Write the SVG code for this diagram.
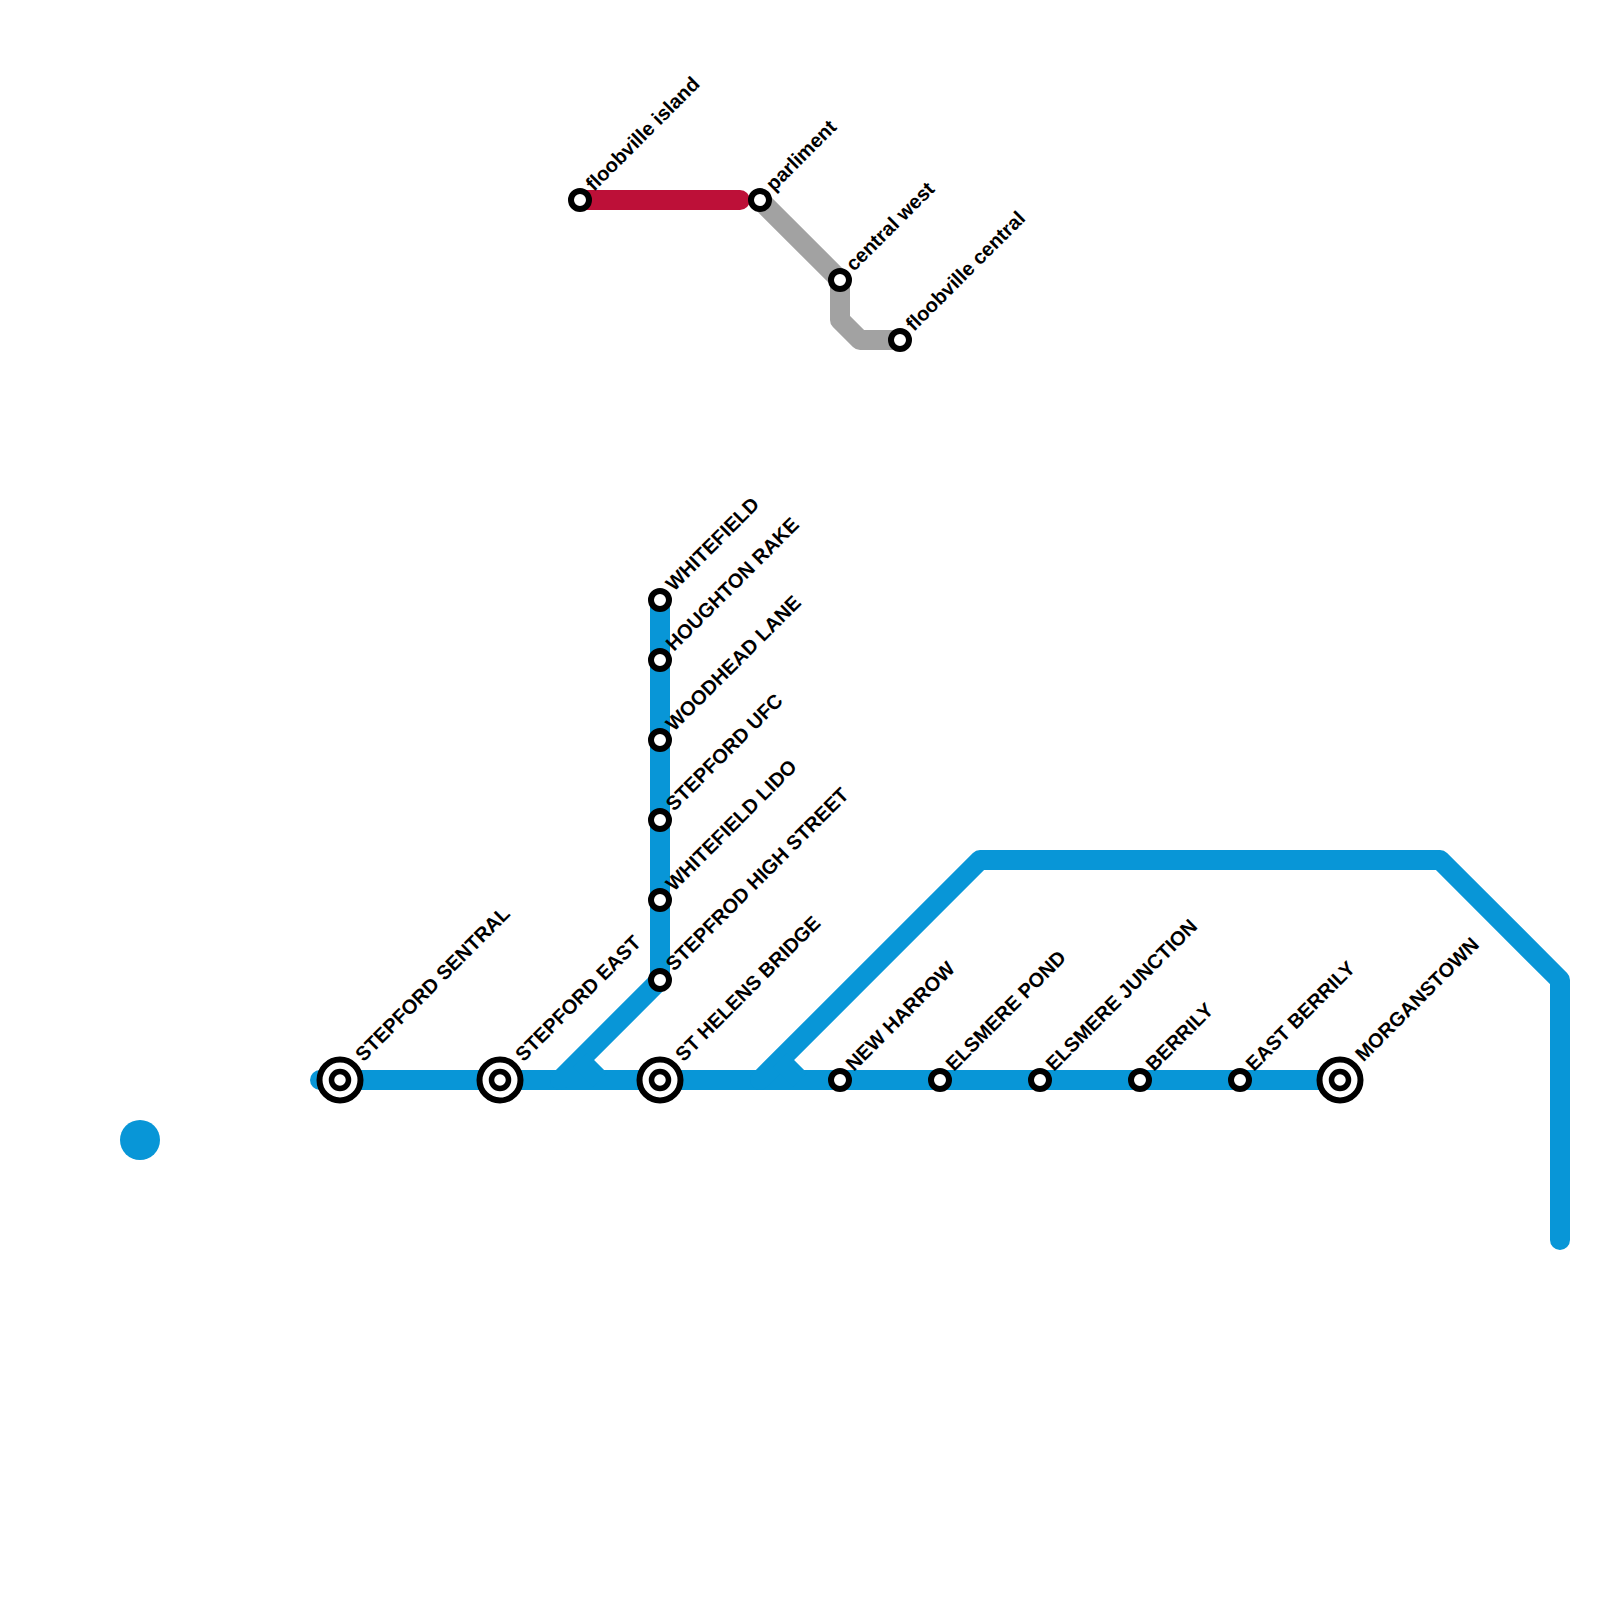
<svg xmlns="http://www.w3.org/2000/svg" width="1600" height="1600" viewBox="0 0 1600 1600">
<style>
.l{fill:none;stroke-width:20;stroke-linecap:round;stroke-linejoin:round}
.b{stroke:#0896d7}.r{stroke:#bd1038}.g{stroke:#a2a2a2}
.o{fill:#fff;stroke:#000;stroke-width:6}
.i{fill:#fff;stroke:#000;stroke-width:5.5}
.t{fill:#000;font-family:"Liberation Sans",Arial,sans-serif;font-weight:bold;font-size:20px}
</style>
<g id="connectors">
<path class="l r" d="M580 200H740"/>
<path class="l g" d="M760 200L840 280V320L860 340H900"/>
<path class="l b" d="M320 1080H1340"/>
<path class="l b" d="M660 600V980L560 1080"/>
<path class="l b" d="M760 1080L980 860H1440L1560 980V1240"/>
<path class="b" style="stroke-width:20;fill:none" d="M580 1060L600 1080M780 1060L800 1080"/>
</g>
<circle id="blob" cx="140" cy="1140" r="20" fill="#0896d7"/>
<g id="s1"><circle class="o" cx="340" cy="1080" r="20.5"/><circle class="i" cx="340" cy="1080" r="8.5"/><text class="t" transform="translate(363.5 1062.5) rotate(-45)">STEPFORD SENTRAL</text></g>
<g id="s2"><circle class="o" cx="500" cy="1080" r="20.5"/><circle class="i" cx="500" cy="1080" r="8.5"/><text class="t" transform="translate(523.5 1062.5) rotate(-45)">STEPFORD EAST</text></g>
<g id="s3"><circle class="o" cx="660" cy="1080" r="20.5"/><circle class="i" cx="660" cy="1080" r="8.5"/><text class="t" transform="translate(683.5 1062.5) rotate(-45)">ST HELENS BRIDGE</text></g>
<g id="s4"><circle class="o" cx="1340" cy="1080" r="20.5"/><circle class="i" cx="1340" cy="1080" r="8.5"/><text class="t" transform="translate(1363.5 1062.5) rotate(-45)">MORGANSTOWN</text></g>
<g id="s5"><circle class="o" cx="840" cy="1080" r="9"/><text class="t" transform="translate(854 1072) rotate(-45)">NEW HARROW</text></g>
<g id="s6"><circle class="o" cx="940" cy="1080" r="9"/><text class="t" transform="translate(954 1072) rotate(-45)">ELSMERE POND</text></g>
<g id="s7"><circle class="o" cx="1040" cy="1080" r="9"/><text class="t" transform="translate(1054 1072) rotate(-45)">ELSMERE JUNCTION</text></g>
<g id="s8"><circle class="o" cx="1140" cy="1080" r="9"/><text class="t" transform="translate(1154 1072) rotate(-45)">BERRILY</text></g>
<g id="s9"><circle class="o" cx="1240" cy="1080" r="9"/><text class="t" transform="translate(1254 1072) rotate(-45)">EAST BERRILY</text></g>
<g id="s10"><circle class="o" cx="660" cy="980" r="9"/><text class="t" transform="translate(674 972) rotate(-45)">STEPFROD HIGH STREET</text></g>
<g id="s11"><circle class="o" cx="660" cy="900" r="9"/><text class="t" transform="translate(674 892) rotate(-45)">WHITEFIELD LIDO</text></g>
<g id="s12"><circle class="o" cx="660" cy="820" r="9"/><text class="t" transform="translate(674 812) rotate(-45)">STEPFORD UFC</text></g>
<g id="s13"><circle class="o" cx="660" cy="740" r="9"/><text class="t" transform="translate(674 732) rotate(-45)">WOODHEAD LANE</text></g>
<g id="s14"><circle class="o" cx="660" cy="660" r="9"/><text class="t" transform="translate(674 652) rotate(-45)">HOUGHTON RAKE</text></g>
<g id="s15"><circle class="o" cx="660" cy="600" r="9"/><text class="t" transform="translate(674 592) rotate(-45)">WHITEFIELD</text></g>
<g id="s16"><circle class="o" cx="580" cy="200" r="9"/><text class="t" transform="translate(594 192) rotate(-45)">floobville island</text></g>
<g id="s17"><circle class="o" cx="760" cy="200" r="9"/><text class="t" transform="translate(774 192) rotate(-45)">parliment</text></g>
<g id="s18"><circle class="o" cx="840" cy="280" r="9"/><text class="t" transform="translate(854 272) rotate(-45)">central west</text></g>
<g id="s19"><circle class="o" cx="900" cy="340" r="9"/><text class="t" transform="translate(914 332) rotate(-45)">floobville central</text></g>
</svg>
